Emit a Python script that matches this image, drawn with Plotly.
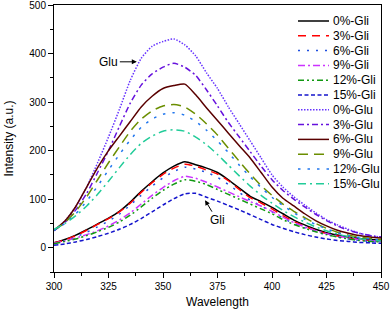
import plotly.graph_objects as go

wavelength = list(range(300, 451, 5))

names = ["0%-Gli", "3%-Gli", "6%-Gli", "9%-Gli", "12%-Gli", "15%-Gli",
         "0%-Glu", "3%-Glu", "6%-Glu", "9%-Glu", "12%-Glu", "15%-Glu"]

gli_0 = [10, 17, 26, 37, 49, 61, 75, 94, 116, 136, 154, 168, 177, 171, 164, 155, 140, 123, 106, 95, 83, 70, 57, 47, 38, 31, 26, 22, 19, 17, 16]
gli_3 = [10, 16, 25, 36, 48, 60, 74, 92, 114, 134, 151, 164, 172, 168, 160, 152, 138, 120, 103, 92, 80, 66, 54, 44, 36, 29, 24, 20, 17, 15, 13]
gli_6 = [8, 14, 22, 32, 43, 55, 69, 88, 108, 127, 144, 157, 166, 162, 155, 145, 130, 114, 98, 86, 74, 61, 50, 41, 33, 27, 22, 18, 15, 13, 12]
gli_9 = [9, 14, 20, 27, 35, 45, 57, 72, 90, 108, 124, 138, 147, 143, 135, 125, 115, 105, 95, 86, 75, 63, 52, 43, 35, 29, 24, 20, 17, 15, 13]
gli_12 = [8, 13, 18, 25, 33, 42, 53, 67, 84, 102, 118, 131, 140, 137, 130, 120, 110, 100, 90, 80, 70, 58, 48, 40, 33, 27, 22, 18, 15, 13, 12]
gli_15 = [5, 8, 12, 17, 23, 30, 38, 48, 60, 74, 88, 101, 111, 112, 104, 96, 87, 78, 68, 58, 48, 40, 33, 27, 22, 18, 15, 13, 11, 10, 9]
glu_0 = [35, 55, 85, 125, 175, 228, 285, 345, 390, 415, 425, 430, 418, 395, 360, 328, 290, 255, 220, 185, 150, 125, 105, 88, 72, 58, 47, 38, 30, 25, 22]
glu_3 = [35, 52, 78, 112, 155, 200, 250, 298, 335, 358, 372, 380, 372, 355, 325, 292, 258, 228, 198, 168, 140, 118, 100, 84, 69, 56, 45, 36, 30, 25, 22]
glu_6 = [36, 55, 85, 125, 165, 200, 230, 260, 290, 312, 328, 334, 337, 315, 288, 262, 236, 210, 185, 155, 125, 102, 86, 70, 56, 45, 36, 30, 25, 22, 20]
glu_9 = [36, 52, 75, 105, 140, 175, 208, 240, 265, 282, 292, 295, 290, 275, 255, 232, 205, 178, 152, 128, 108, 90, 75, 62, 50, 40, 32, 26, 22, 19, 17]
glu_12 = [36, 50, 70, 96, 127, 160, 192, 222, 248, 265, 275, 278, 273, 260, 242, 220, 196, 170, 146, 124, 104, 87, 72, 59, 48, 39, 31, 25, 21, 18, 16]
glu_15 = [38, 50, 66, 86, 110, 137, 165, 192, 215, 230, 240, 243, 240, 228, 212, 192, 170, 148, 127, 108, 92, 77, 64, 53, 43, 35, 28, 23, 19, 16, 14]

series = [gli_0, gli_3, gli_6, gli_9, gli_12, gli_15,
          glu_0, glu_3, glu_6, glu_9, glu_12, glu_15]

colors = ["#000000", "#ff0000", "#1f4fe0", "#cc33ff", "#119911", "#1515cc",
          "#6633ff", "#6611dd", "#5a0000", "#6b8e00", "#2277ee", "#22cc99"]
dashes = ["solid", "8px,6px", "2px,7px", "7px,3px,2px,3px", "6px,3px,2px,3px,2px,3px", "4px,2.5px",
          "1.5px,1.5px", "6px,3px,2px,3px", "solid", "10px,6px", "2.5px,7px", "8px,4px,2px,4px"]

FONT = "Liberation Sans, Arial, sans-serif"

fig = go.Figure()
for name, ys, c, d in zip(names, series, colors, dashes):
    fig.add_trace(go.Scatter(x=wavelength, y=ys, mode="lines", name=name,
                             line=dict(color=c, width=1.5, dash=d, shape="spline", smoothing=0.6),
                             showlegend=False))

# manual compact legend
W, H = 392, 309
ml, mr, mt, mb = 54, 11, 5, 37
pw, ph = W - ml - mr, H - mt - mb
for i, (name, c, d) in enumerate(zip(names, colors, dashes)):
    py = 21 + i * 14.8
    yc = (H - mb - py) / ph
    fig.add_shape(type="line", xref="paper", yref="paper",
                  x0=(298 - ml) / pw, x1=(329 - ml) / pw, y0=yc, y1=yc,
                  line=dict(color=c, width=1.5, dash=d))
    fig.add_annotation(xref="paper", yref="paper", x=(331 - ml) / pw, y=yc,
                       text=name, showarrow=False, xanchor="left", yanchor="middle",
                       font=dict(family=FONT, size=12, color="#000000"))

fig.add_annotation(x=338, y=383, text="Glu", showarrow=True, arrowhead=2, arrowsize=1,
                   arrowwidth=1, arrowcolor="#000000", ax=-28, ay=0,
                   font=dict(family=FONT, size=12, color="#000000"))
fig.add_annotation(x=369.3, y=98, text="Gli", showarrow=True, arrowhead=2, arrowsize=1,
                   arrowwidth=1, arrowcolor="#000000", ax=12, ay=20,
                   font=dict(family=FONT, size=12, color="#000000"))

axis_common = dict(showline=True, linecolor="#000000", linewidth=1, mirror=True,
                   ticks="outside", ticklen=5, tickwidth=1, tickcolor="#000000",
                   showgrid=False, zeroline=False, ticklabeloverflow="allow",
                   tickfont=dict(family=FONT, size=10, color="#000000"))

fig.update_xaxes(range=[300, 450], dtick=25, tick0=300,
                 title=dict(text="Wavelength", font=dict(family=FONT, size=12, color="#000000"), standoff=6),
                 minor=dict(ticks="outside", ticklen=3, dtick=12.5, tick0=300, tickcolor="#000000"),
                 **axis_common)
fig.update_yaxes(range=[-50, 500.05], dtick=100, tick0=0,
                 title=dict(text="Intensity (a.u.)", font=dict(family=FONT, size=12, color="#000000"), standoff=13),
                 minor=dict(ticks="outside", ticklen=3, dtick=50, tick0=0, tickcolor="#000000"),
                 **axis_common)

fig.update_layout(width=W, height=H, margin=dict(l=ml, r=mr, t=mt, b=mb, autoexpand=False),
                  paper_bgcolor="#ffffff", plot_bgcolor="#ffffff",
                  font=dict(family=FONT, size=12, color="#000000"))

fig.write_html("out.html", config={"displayModeBar": False},
               post_script="document.body.style.margin='0';document.body.style.overflow='hidden';")
